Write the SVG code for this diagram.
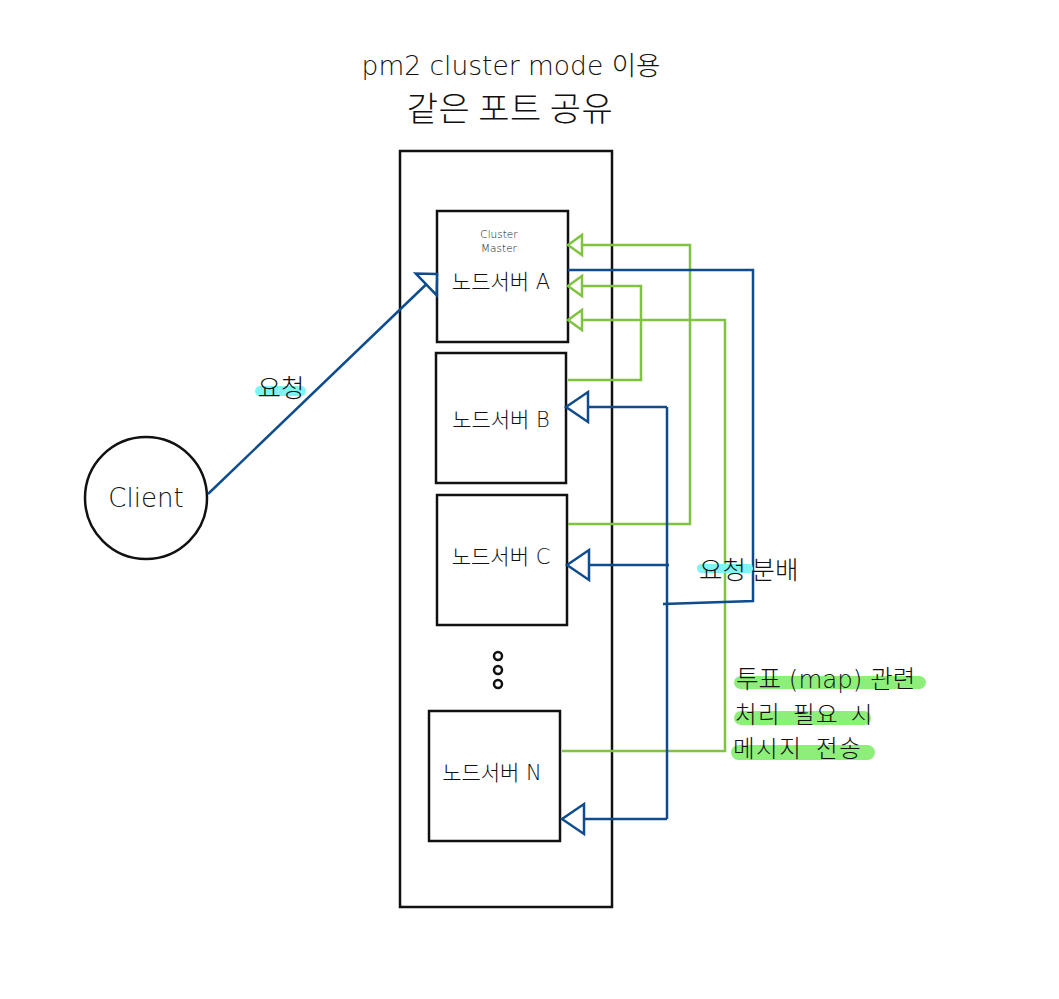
<svg xmlns="http://www.w3.org/2000/svg" width="1059" height="999" viewBox="0 0 1059 999">
<style>
text{font-family:"DejaVu Sans","Noto Sans CJK KR",sans-serif;font-weight:300;fill:#111}
.k{font-family:"Noto Sans CJK KR","Noto Sans",sans-serif}
.box{fill:#fff;stroke:#111;stroke-width:2.5}
.blue{fill:none;stroke:#0f4c8e;stroke-width:2.5}
.green{fill:none;stroke:#80c342;stroke-width:2.5}
.hl-c{fill:#7ff4f4}
.hl-g{fill:#8def7a}
</style>
<defs>
<marker id="ab" markerUnits="userSpaceOnUse" markerWidth="26" markerHeight="34" viewBox="-2 -2 26 34" refX="22" refY="15" orient="auto" overflow="visible">
<path d="M22,15 L0,0 L0,30 Z" fill="#fff" stroke="#0f4c8e" stroke-width="2.5"/>
</marker>
<marker id="ab2" markerUnits="userSpaceOnUse" markerWidth="20" markerHeight="34" viewBox="-2 -2 20 34" refX="15" refY="15" orient="auto" overflow="visible">
<path d="M15,15 L0,0 L0,30 Z" fill="#fff" stroke="#0f4c8e" stroke-width="2.5"/>
</marker>
<marker id="ag" markerUnits="userSpaceOnUse" markerWidth="20" markerHeight="24" viewBox="-2 -2 20 24" refX="14" refY="10" orient="auto" overflow="visible">
<path d="M14,10 L0,0 L0,20 Z" fill="#fff" stroke="#80c342" stroke-width="2.5"/>
</marker>
</defs>
<rect width="1059" height="999" fill="#fff"/>

<g id="title">
<text x="511" y="75" font-size="26.5" text-anchor="middle">pm2 cluster mode 이용</text>
<text class="k" x="510" y="121" font-size="34" font-weight="400" text-anchor="middle" letter-spacing="0.5">같은 포트 공유</text>
</g>

<g id="container"><rect class="box" x="400" y="151" width="212" height="756"/></g>

<g id="nodeA">
<rect class="box" x="437" y="211" width="131" height="131"/>
<text x="499" y="238" font-size="10.5" text-anchor="middle">Cluster</text>
<text x="499" y="252" font-size="10.5" text-anchor="middle">Master</text>
<text x="501" y="289" font-size="21" text-anchor="middle">노드서버 A</text>
</g>
<g id="nodeB">
<rect class="box" x="436" y="353" width="130" height="130"/>
<text x="501" y="427" font-size="21" text-anchor="middle">노드서버 B</text>
</g>
<g id="nodeC">
<rect class="box" x="437" y="495" width="130" height="130"/>
<text x="501" y="564" font-size="21" text-anchor="middle">노드서버 C</text>
</g>
<g id="dots" fill="none" stroke="#111" stroke-width="2.5">
<circle cx="498" cy="656" r="4"/>
<circle cx="498" cy="670" r="4"/>
<circle cx="498" cy="684" r="4"/>
</g>
<g id="nodeN">
<rect class="box" x="429" y="711" width="131" height="130"/>
<text x="492" y="780" font-size="21" text-anchor="middle">노드서버 N</text>
</g>
<g id="client">
<circle cx="146" cy="498" r="61" fill="#fff" stroke="#111" stroke-width="2.5"/>
<text x="146" y="507" font-size="26" text-anchor="middle">Client</text>
</g>

<g id="connectors">
<path class="blue" d="M208,494 L437,274" marker-end="url(#ab2)"/>
<path class="green" d="M568,380 H641 V286 H568" marker-end="url(#ag)"/>
<path class="green" d="M568,524 H690 V245 H568" marker-end="url(#ag)"/>
<path class="green" d="M562,751 H725 V320 H568" marker-end="url(#ag)"/>
<path class="blue" d="M568,270 H753 V601 L663,604"/>
<path class="blue" d="M667,407 V819"/>
<path class="blue" d="M667,407 H566" marker-end="url(#ab)"/>
<path class="blue" d="M669,565 H567" marker-end="url(#ab)"/>
<path class="blue" d="M667,819 H562" marker-end="url(#ab)"/>
</g>

<g id="labels">
<rect class="hl-c" x="255" y="386" width="51" height="10" rx="5"/>
<text class="k" x="281" y="397" font-size="25.5" font-weight="400" text-anchor="middle">요청</text>
<rect class="hl-c" x="697" y="564" width="56" height="9" rx="4.5"/>
<text class="k" x="699" y="579" font-size="25.5" font-weight="400">요청 분배</text>
<rect class="hl-g" x="734" y="676" width="192" height="13" rx="6.5"/>
<text x="736" y="688" font-size="24.5">투표 (map) 관련</text>
<rect class="hl-g" x="734" y="711" width="137" height="14" rx="7"/>
<text class="k" x="735" y="723" font-size="23.5" font-weight="400" letter-spacing="1.5" word-spacing="5">처리 필요 시</text>
<rect class="hl-g" x="731" y="745" width="144" height="15" rx="7.5"/>
<text class="k" x="733" y="757" font-size="23.5" font-weight="400" letter-spacing="1.5" word-spacing="7">메시지 전송</text>
</g>
</svg>
